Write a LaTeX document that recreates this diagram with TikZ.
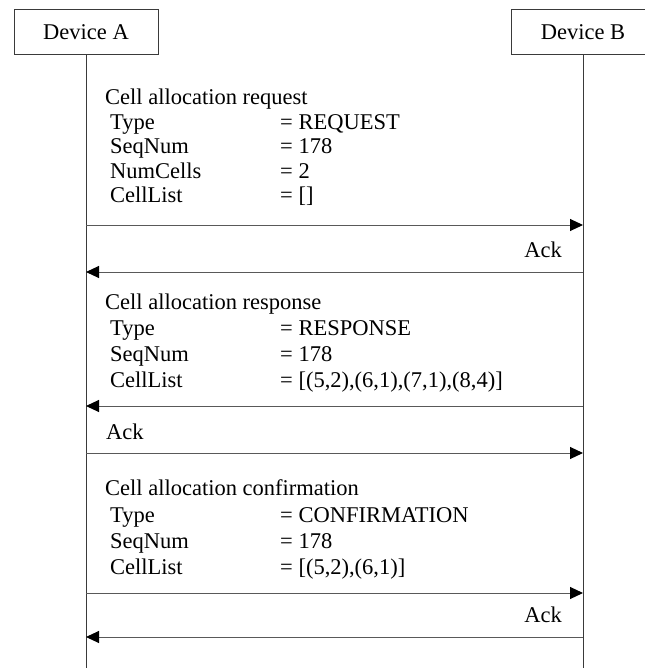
\documentclass[tikz,border=0pt]{standalone}
\usepackage{fontspec}
\setmainfont{Liberation Serif}
\usetikzlibrary{arrows.meta}
\definecolor{linegray}{HTML}{3A3A3A}
\definecolor{msggray}{HTML}{595959}
\tikzset{
  every node/.style={font=\fontsize{22.5}{25.5}\selectfont, inner sep=0pt},
  device/.style={draw=linegray, line width=1pt, minimum width=144pt, minimum height=45pt, fill=white},
  lifeline/.style={draw=linegray, line width=1pt},
  msg/.style={draw=msggray, line width=1pt, -{Triangle[length=13pt,width=12pt,fill=black,color=black]}},
  txt/.style={anchor=base west},
  ack/.style={anchor=base east},
}
\begin{document}
\begin{tikzpicture}[x=1pt, y=-1pt]
\useasboundingbox (0,0) rectangle (644,668);
\fill[white] (0,0) rectangle (644,668);

% participants
\node[device] (devA) at (86,32.5) {Device A};
\node[device] (devB) at (583,32.5) {Device B};
\coordinate (endA) at (86,668);
\coordinate (endB) at (583,668);
\draw[lifeline] (devA.south) -- (endA);
\draw[lifeline] (devB.south) -- (endB);

% message anchor points on the lifelines
\foreach \n/\y in {1/225, 2/272, 3/406, 4/453, 5/593, 6/637} {
  \coordinate (a\n) at (86,\y);
  \coordinate (b\n) at (583,\y);
}

% request
\node[txt] (reqT) at (105,104.5) {Cell allocation request};
\node[txt] (reqK1) at (110,129.5) {Type};
\node[txt] (reqV1) at (280,129.5) {= REQUEST};
\node[txt] (reqK2) at (110,154) {SeqNum};
\node[txt] (reqV2) at (280,154) {= 178};
\node[txt] (reqK3) at (110,178.5) {NumCells};
\node[txt] (reqV3) at (280,178.5) {= 2};
\node[txt] (reqK4) at (110,203) {CellList};
\node[txt] (reqV4) at (280,203) {= []};
\draw[msg] (a1) -- (b1);

\node[ack] (ack1) at (562,257.5) {Ack};
\draw[msg] (b2) -- (a2);

% response
\node[txt] (resT) at (105,309) {Cell allocation response};
\node[txt] (resK1) at (110,335) {Type};
\node[txt] (resV1) at (280,335) {= RESPONSE};
\node[txt] (resK2) at (110,361) {SeqNum};
\node[txt] (resV2) at (280,361) {= 178};
\node[txt] (resK3) at (110,387) {CellList};
\node[txt] (resV3) at (280,387) {= [(5,2),(6,1),(7,1),(8,4)]};
\draw[msg] (b3) -- (a3);

\node[txt] (ack2) at (106,439.5) {Ack};
\draw[msg] (a4) -- (b4);

% confirmation
\node[txt] (cnfT) at (105,495.5) {Cell allocation confirmation};
\node[txt] (cnfK1) at (110,522) {Type};
\node[txt] (cnfV1) at (280,522) {= CONFIRMATION};
\node[txt] (cnfK2) at (110,548.5) {SeqNum};
\node[txt] (cnfV2) at (280,548.5) {= 178};
\node[txt] (cnfK3) at (110,574.5) {CellList};
\node[txt] (cnfV3) at (280,574.5) {= [(5,2),(6,1)]};
\draw[msg] (a5) -- (b5);

\node[ack] (ack3) at (562,622.5) {Ack};
\draw[msg] (b6) -- (a6);
\end{tikzpicture}
\end{document}
